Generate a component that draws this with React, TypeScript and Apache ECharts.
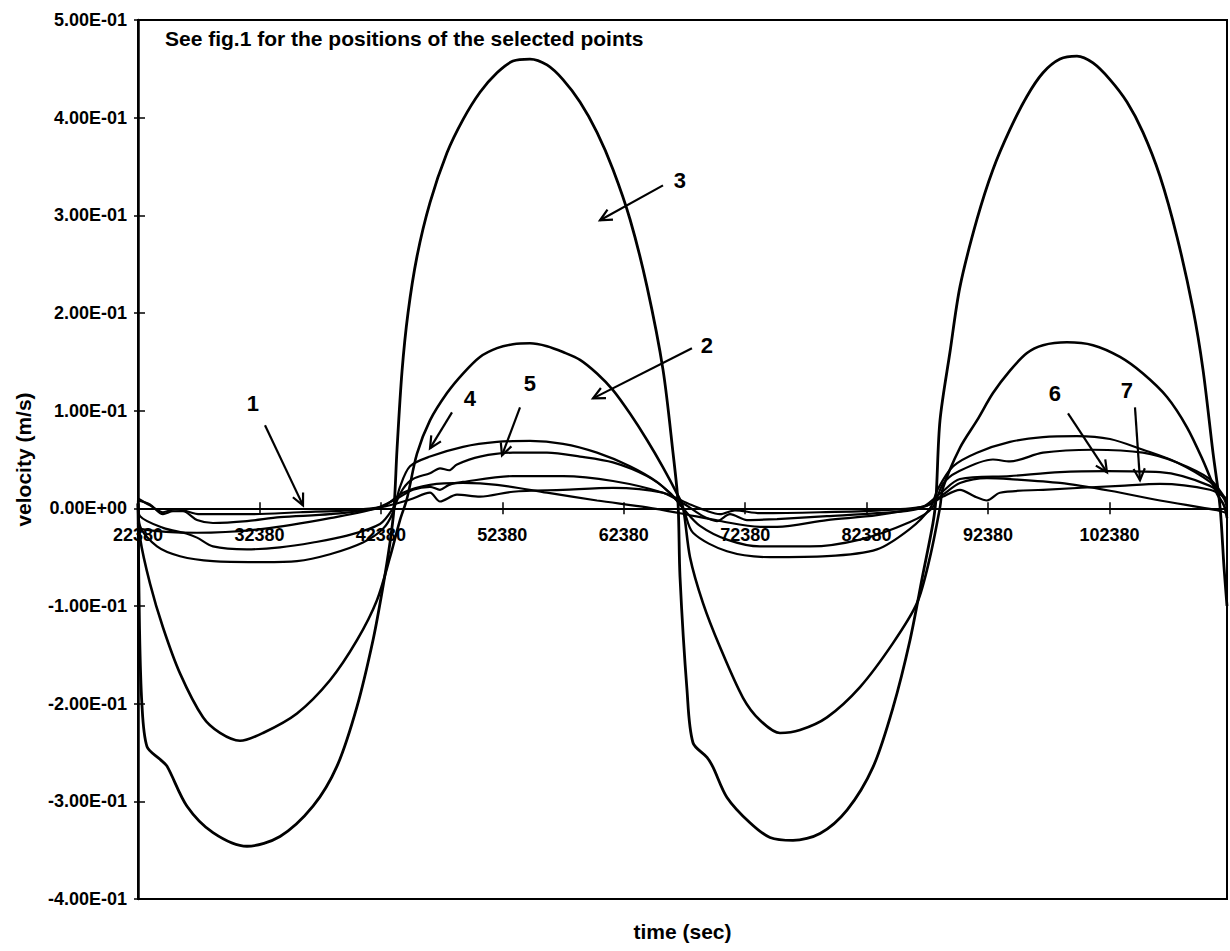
import React, { useEffect, useRef } from "react";
import * as echarts from "echarts";

// ---- axes ----
const X_MIN = 22380;
const X_MAX = 112060;
const X_TICKS = [22380, 32380, 42380, 52380, 62380, 72380, 82380, 92380, 102380];
const Y_MIN = -0.4;
const Y_MAX = 0.5;
const Y_STEP = 0.1;

// ---- series: [time (s), velocity (m/s)] ----
const curve1: number[][] = [
  [22380, -0.015], [22545, -0.021], [27239, -0.025], [32674, -0.021], [38191, -0.01],
  [42556, 0.002], [44203, 0.016], [46426, 0.024], [49144, 0.026], [51944, 0.024],
  [56061, 0.016], [60179, 0.008], [64297, 0.001], [67014, -0.005], [70308, -0.013],
  [73602, -0.019], [75002, -0.019], [79119, -0.012], [83237, -0.007], [87354, 0.003],
  [88672, 0.014], [90072, 0.026], [92295, 0.031], [94189, 0.03], [98307, 0.026],
  [102424, 0.018], [106542, 0.008], [111236, -0.002], [112059, -0.005],
];

const curve2: number[][] = [
  [22380, 0.005], [22545, -0.03], [23368, -0.077], [24439, -0.122], [25839, -0.169],
  [27733, -0.214], [29133, -0.23], [30780, -0.238], [32674, -0.23], [35474, -0.21],
  [38191, -0.176], [40415, -0.135], [42062, -0.094], [43133, -0.05], [43956, -0.012],
  [44532, 0.01], [45356, 0.056], [46426, 0.09], [47826, 0.118], [49144, 0.138],
  [50544, 0.155], [51944, 0.164], [53261, 0.168], [54661, 0.169], [56061, 0.166],
  [57379, 0.16], [58779, 0.152], [60179, 0.138], [61496, 0.121], [62896, 0.097],
  [64297, 0.07], [65614, 0.042], [66767, 0.015], [67261, 0.001], [67838, -0.05],
  [68908, -0.097], [70308, -0.142], [72202, -0.194], [73602, -0.217], [75249, -0.23],
  [76896, -0.227], [79119, -0.214], [81837, -0.183], [84554, -0.138], [86531, -0.097],
  [87601, -0.05], [88425, 0.001], [88672, 0.021], [90072, 0.062], [91472, 0.09],
  [92789, 0.118], [94189, 0.141], [95589, 0.159], [96907, 0.167], [98883, 0.17],
  [101024, 0.167], [103248, 0.155], [105142, 0.138], [107118, 0.114], [108765, 0.083],
  [110083, 0.049], [111236, 0.015], [111812, 0.003], [112059, -0.01],
];

const curve3: number[][] = [
  [22380, 0.005], [22500, -0.12], [22700, -0.2], [23121, -0.244], [24192, -0.257],
  [24768, -0.264], [26415, -0.305], [28556, -0.332], [31356, -0.346], [34074, -0.336],
  [36791, -0.305], [38768, -0.264], [40415, -0.203], [41750, -0.134], [42556, -0.08],
  [43133, -0.035], [43462, 0.0], [43709, 0.06], [44120, 0.14], [44615, 0.2],
  [45356, 0.258], [46426, 0.313], [47826, 0.364], [49144, 0.398], [50544, 0.426],
  [51944, 0.446], [53261, 0.458], [54661, 0.46], [56061, 0.454], [57379, 0.439],
  [58779, 0.416], [60179, 0.385], [61496, 0.347], [62896, 0.296], [64297, 0.227],
  [65614, 0.142], [66437, 0.057], [66849, 0.006], [67014, -0.07], [67591, -0.186],
  [68084, -0.24], [69237, -0.255], [69731, -0.265], [70884, -0.296], [72778, -0.322],
  [74425, -0.337], [76319, -0.34], [78543, -0.333], [80766, -0.309], [82907, -0.265],
  [84554, -0.204], [85954, -0.135], [87025, -0.067], [87848, -0.015], [88095, 0.01],
  [88425, 0.09], [89248, 0.16], [90072, 0.227], [91472, 0.296], [92789, 0.347],
  [94189, 0.388], [95589, 0.422], [96907, 0.446], [98307, 0.46], [99707, 0.463],
  [101024, 0.456], [102424, 0.439], [103824, 0.416], [105142, 0.385], [106542, 0.34],
  [107942, 0.278], [109259, 0.204], [110083, 0.142], [110906, 0.057], [111483, 0.002],
  [111812, -0.06], [112059, -0.1],
];

const curve4: number[][] = [
  [22380, 0.008], [22545, -0.018], [23945, -0.039], [25839, -0.049], [28556, -0.054],
  [32674, -0.055], [35474, -0.054], [38191, -0.047], [40909, -0.035], [42556, -0.021],
  [43379, -0.004], [43956, 0.022], [44779, 0.043], [46426, 0.053], [49144, 0.063],
  [51944, 0.068], [54661, 0.069], [57379, 0.066], [60179, 0.057], [62896, 0.043],
  [65120, 0.027], [66437, 0.012], [67261, 0.0], [68084, -0.025], [70884, -0.044],
  [74425, -0.05], [79119, -0.049], [83237, -0.042], [85954, -0.021], [87601, 0.0],
  [88260, 0.02], [89495, 0.043], [91472, 0.057], [94189, 0.068], [96907, 0.073],
  [99707, 0.074], [102424, 0.071], [105142, 0.06], [107942, 0.047], [110659, 0.027],
  [111812, 0.01], [112059, 0.0],
];

const curve5: number[][] = [
  [22380, 0.005], [22545, -0.008], [24439, -0.02], [26415, -0.026], [27239, -0.03],
  [28556, -0.039], [31356, -0.042], [34074, -0.04], [36791, -0.035], [39591, -0.028],
  [42309, -0.016], [43379, 0.0], [44203, 0.02], [45026, 0.03], [46426, 0.036],
  [47250, 0.041], [48000, 0.039], [48650, 0.045], [50544, 0.053], [53261, 0.057],
  [56061, 0.057], [58779, 0.053], [61496, 0.047], [64297, 0.033], [66190, 0.016],
  [67261, 0.0], [68661, -0.018], [70884, -0.032], [73602, -0.039], [77719, -0.039],
  [81837, -0.032], [85954, -0.014], [87766, 0.0], [88672, 0.025], [89825, 0.037],
  [92789, 0.05], [94189, 0.048], [96907, 0.057], [101024, 0.06], [105142, 0.057],
  [107942, 0.047], [110659, 0.03], [111812, 0.012], [112059, 0.005],
];

const curve6: number[][] = [
  [22380, 0.008], [23368, 0.004], [24439, -0.006], [25262, -0.003], [26086, -0.003],
  [27239, -0.012], [28556, -0.015], [31356, -0.013], [34074, -0.009], [38191, -0.006],
  [41897, 0.0], [43709, 0.01], [45026, 0.019], [46426, 0.022], [47250, 0.019],
  [48000, 0.024], [49144, 0.027], [53261, 0.033], [57379, 0.033], [61496, 0.028],
  [65614, 0.016], [67426, 0.004], [68908, -0.008], [70061, -0.013], [71131, -0.006],
  [72531, -0.012], [75002, -0.011], [79119, -0.008], [83237, -0.005], [86778, 0.0],
  [88425, 0.015], [90072, 0.03], [94189, 0.033], [98307, 0.037], [102177, 0.038],
  [106542, 0.037], [110659, 0.023], [112059, 0.008],
];

const curve7: number[][] = [
  [22380, 0.01], [23368, 0.003], [24439, -0.004], [25427, -0.001], [26086, -0.002],
  [27486, -0.006], [31603, -0.006], [35721, -0.004], [39838, -0.002], [42721, 0.002],
  [44779, 0.009], [46426, 0.016], [47250, 0.007], [48650, 0.014], [50544, 0.012],
  [53261, 0.017], [57379, 0.019], [61496, 0.021], [65614, 0.016], [67838, 0.004],
  [69072, -0.002], [70308, -0.006], [71543, -0.002], [73602, -0.005], [78543, -0.004],
  [83484, -0.002], [87189, 0.002], [88672, 0.012], [90072, 0.019], [91307, 0.012],
  [92295, 0.008], [93366, 0.016], [96907, 0.019], [103248, 0.023], [106542, 0.025],
  [110659, 0.019], [112059, 0.01],
];

const SERIES = [
  { name: "1", data: curve1, width: 2.2 },
  { name: "2", data: curve2, width: 2.6 },
  { name: "3", data: curve3, width: 2.8 },
  { name: "4", data: curve4, width: 2.2 },
  { name: "5", data: curve5, width: 2.2 },
  { name: "6", data: curve6, width: 2.2 },
  { name: "7", data: curve7, width: 2.2 },
];

// ---- annotations (data coordinates): label position, arrow start, arrow tip ----
const ANNOTATIONS = [
  { label: "1", at: [31850, 0.1075], from: [32838, 0.085], to: [35968, 0.003] },
  { label: "4", at: [49720, 0.1126], from: [48238, 0.0983], to: [46426, 0.0614] },
  { label: "5", at: [54661, 0.128], from: [53838, 0.1034], to: [52355, 0.0543] },
  { label: "3", at: [67014, 0.3358], from: [65614, 0.3307], to: [60426, 0.2949] },
  { label: "2", at: [69237, 0.1669], from: [67999, 0.1638], to: [59849, 0.1126] },
  { label: "6", at: [97895, 0.1177], from: [98966, 0.0973], to: [102177, 0.0369] },
  { label: "7", at: [103824, 0.1208], from: [104483, 0.1034], to: [104895, 0.0287] },
];

const NOTE = "See fig.1 for the positions of the selected points";
const FONT = '"Liberation Sans", Arial, Helvetica, sans-serif';

// layout
const W = 1230;
const H = 951;
const G_LEFT = 138;
const G_RIGHT = 3;
const G_TOP = 20;
const G_BOTTOM = 52;

function fmtE(v: number): string {
  if (Math.abs(v) < 1e-12) return "0.00E+00";
  let e = Math.floor(Math.log10(Math.abs(v)) + 1e-9);
  let m = v / Math.pow(10, e);
  if (Math.abs(m) >= 9.995) {
    m /= 10;
    e += 1;
  }
  const es = (e < 0 ? "-" : "+") + String(Math.abs(e)).padStart(2, "0");
  return m.toFixed(2) + "E" + es;
}

export default function App() {
  const ref = useRef<HTMLDivElement>(null);

  useEffect(() => {
    if (!ref.current) return;
    const chart = echarts.init(ref.current, undefined, { renderer: "svg" });

    // distance from the grid bottom up to the zero line (axis crosses at y = 0)
    const plotH = H - G_TOP - G_BOTTOM;
    const zeroOffset = (plotH * (0 - Y_MIN)) / (Y_MAX - Y_MIN);

    const baseX = {
      type: "value",
      min: X_MIN,
      max: X_MAX,
      splitLine: { show: false },
    };
    const baseY = {
      type: "value",
      min: Y_MIN,
      max: Y_MAX,
      interval: Y_STEP,
      splitLine: { show: false },
    };

    chart.setOption({
      animation: false,
      backgroundColor: "#ffffff",
      title: {
        text: NOTE,
        left: 160,
        top: 23,
        textStyle: { fontFamily: FONT, fontWeight: "bold", fontSize: 21, color: "#000" },
      },
      grid: {
        left: G_LEFT,
        right: G_RIGHT,
        top: G_TOP,
        bottom: G_BOTTOM,
        containLabel: false,
        outerBoundsMode: "none",
        show: true,
        borderColor: "#000",
        borderWidth: 2,
        backgroundColor: "transparent",
      },
      xAxis: [
        {
          ...baseX,
          position: "bottom",
          offset: -zeroOffset,
          axisLine: { show: true, onZero: false, lineStyle: { color: "#000", width: 2 } },
          axisTick: { show: true, inside: false, length: 6, customValues: X_TICKS, lineStyle: { color: "#000", width: 1.5 } },
          axisLabel: {
            show: true,
            customValues: X_TICKS,
            margin: 18,
            formatter: (v: number) => String(v),
            fontFamily: FONT,
            fontWeight: "bold",
            fontSize: 18,
            color: "#000",
          },
        },
        {
          ...baseX,
          position: "bottom",
          offset: -zeroOffset,
          axisLine: { show: false, onZero: false },
          axisTick: { show: true, inside: true, length: 6, customValues: X_TICKS, lineStyle: { color: "#000", width: 1.5 } },
          axisLabel: { show: false },
        },
        {
          ...baseX,
          position: "bottom",
          name: "time (sec)",
          nameLocation: "middle",
          nameGap: 22,
          nameTextStyle: { fontFamily: FONT, fontWeight: "bold", fontSize: 21, color: "#000" },
          axisLine: { show: false, onZero: false },
          axisTick: { show: false },
          axisLabel: { show: false },
        },
      ],
      yAxis: [
        {
          ...baseY,
          position: "left",
          name: "velocity (m/s)",
          nameLocation: "middle",
          nameGap: 104,
          nameRotate: 90,
          nameTextStyle: { fontFamily: FONT, fontWeight: "bold", fontSize: 21, color: "#000" },
          axisLine: { show: true, onZero: false, lineStyle: { color: "#000", width: 2.5 } },
          axisTick: { show: true, inside: false, length: 4, lineStyle: { color: "#000", width: 1.5 } },
          axisLabel: {
            margin: 11,
            formatter: (v: number) => fmtE(v),
            fontFamily: FONT,
            fontWeight: "bold",
            fontSize: 18,
            color: "#000",
          },
        },
        {
          ...baseY,
          position: "left",
          axisLine: { show: false, onZero: false },
          axisTick: { show: true, inside: true, length: 7, lineStyle: { color: "#000", width: 1.5 } },
          axisLabel: { show: false },
        },
      ],
      series: SERIES.map((s) => ({
        name: s.name,
        type: "line",
        xAxisIndex: 0,
        yAxisIndex: 0,
        data: s.data,
        showSymbol: false,
        symbol: "none",
        smooth: 0.3,
        lineStyle: { color: "#000", width: s.width },
        emphasis: { disabled: true },
        z: 3,
      })),
    });

    // annotations: numbers with open arrowheads, positioned through the axes
    const graphics: any[] = [];
    ANNOTATIONS.forEach((a) => {
      const p = chart.convertToPixel({ xAxisIndex: 0, yAxisIndex: 0 }, a.at) as number[];
      const f = chart.convertToPixel({ xAxisIndex: 0, yAxisIndex: 0 }, a.from) as number[];
      const t = chart.convertToPixel({ xAxisIndex: 0, yAxisIndex: 0 }, a.to) as number[];
      graphics.push({
        type: "text",
        x: p[0],
        y: p[1],
        z: 10,
        style: {
          text: a.label,
          fontFamily: FONT,
          fontWeight: "bold",
          fontSize: 22,
          fill: "#000",
          align: "center",
          verticalAlign: "middle",
        },
      });
      graphics.push({
        type: "line",
        z: 10,
        shape: { x1: f[0], y1: f[1], x2: t[0], y2: t[1] },
        style: { stroke: "#000", lineWidth: 2.2 },
      });
      const ang = Math.atan2(t[1] - f[1], t[0] - f[0]);
      const L = 13;
      const spread = 0.45;
      const h1 = [t[0] - L * Math.cos(ang - spread), t[1] - L * Math.sin(ang - spread)];
      const h2 = [t[0] - L * Math.cos(ang + spread), t[1] - L * Math.sin(ang + spread)];
      graphics.push({
        type: "polyline",
        z: 10,
        shape: { points: [h1, t, h2] },
        style: { stroke: "#000", lineWidth: 2.2, fill: "none" },
      });
    });
    chart.setOption({ graphic: graphics });

    return () => {
      chart.dispose();
    };
  }, []);

  return (
    <div
      ref={ref}
      style={{ position: "fixed", left: 0, top: 0, width: W, height: H, background: "#fff" }}
    />
  );
}
